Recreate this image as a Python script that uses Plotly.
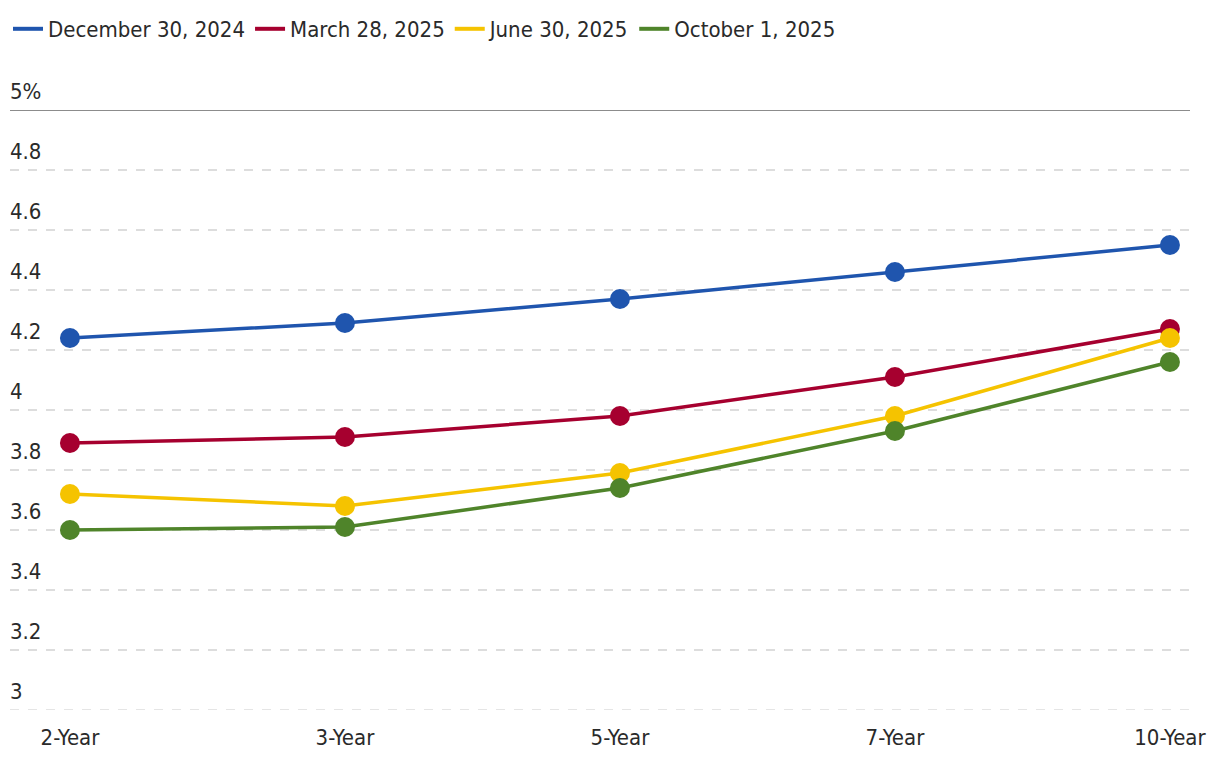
import plotly.graph_objects as go

categories = ["2-Year", "3-Year", "5-Year", "7-Year", "10-Year"]
series_names = ["December 30, 2024", "March 28, 2025", "June 30, 2025", "October 1, 2025"]
dec_2024 = [4.24, 4.29, 4.37, 4.46, 4.55]
mar_2025 = [3.89, 3.91, 3.98, 4.11, 4.27]
jun_2025 = [3.72, 3.68, 3.79, 3.98, 4.24]
oct_2025 = [3.60, 3.61, 3.74, 3.93, 4.16]
y_ticks = [3, 3.2, 3.4, 3.6, 3.8, 4, 4.2, 4.4, 4.6, 4.8, 5]
y_tick_labels = ["3", "3.2", "3.4", "3.6", "3.8", "4", "4.2", "4.4", "4.6", "4.8", "5%"]

colors = ["#1F55AE", "#A6002F", "#F5C300", "#4F842A"]
FONT = "DejaVu Sans Condensed, Liberation Sans Narrow, sans-serif"
FS = 22
TXT = "#2a2a2a"

fig = go.Figure()
for name, vals, c in zip(series_names, [dec_2024, mar_2025, jun_2025, oct_2025], colors):
    fig.add_trace(go.Scatter(
        x=categories, y=vals, name=name, mode="lines+markers",
        line=dict(color=c, width=3.5),
        marker=dict(color=c, size=20),
        showlegend=False,
    ))
for name, c in zip(series_names, colors):
    fig.add_trace(go.Scatter(
        x=[None], y=[None], name=name, mode="lines",
        line=dict(color=c, width=4), showlegend=True,
    ))

for v, lab in zip(y_ticks, y_tick_labels):
    fig.add_annotation(x=0, xref="paper", y=v, yref="y", text=lab, showarrow=False,
                       xanchor="left", yanchor="bottom", yshift=4, xshift=-2,
                       font=dict(family=FONT, size=FS, color=TXT))

fig.add_shape(type="line", xref="paper", yref="y", x0=0, x1=1, y0=3, y1=3,
              line=dict(color="#dddddd", width=1.5, dash="dash"), layer="below")
fig.add_shape(type="line", xref="paper", yref="y", x0=0, x1=1, y0=5, y1=5,
              line=dict(color="#666666", width=1.5), layer="above")

fig.update_layout(
    width=1212, height=760,
    margin=dict(l=2, r=30, t=102, b=58, autoexpand=False),
    paper_bgcolor="white", plot_bgcolor="white",
    font=dict(family=FONT, size=FS, color=TXT),
    showlegend=True,
    legend=dict(orientation="h", x=0, xref="container", xanchor="left", y=1, yref="container",
                yanchor="top", font=dict(family=FONT, size=FS, color=TXT),
                itemwidth=30, tracegroupgap=0),
    xaxis=dict(type="category", range=[-0.218, 4.073], showgrid=False, zeroline=False,
               showline=False, ticks="", automargin=False, ticklabelstandoff=12,
               tickfont=dict(family=FONT, size=FS, color=TXT)),
    yaxis=dict(range=[3, 5], tickvals=y_ticks, showticklabels=False, showgrid=True,
               gridcolor="#dddddd", gridwidth=1.5, griddash="dash", zeroline=False,
               showline=False, automargin=False),
)

fig.write_html("out.html")
